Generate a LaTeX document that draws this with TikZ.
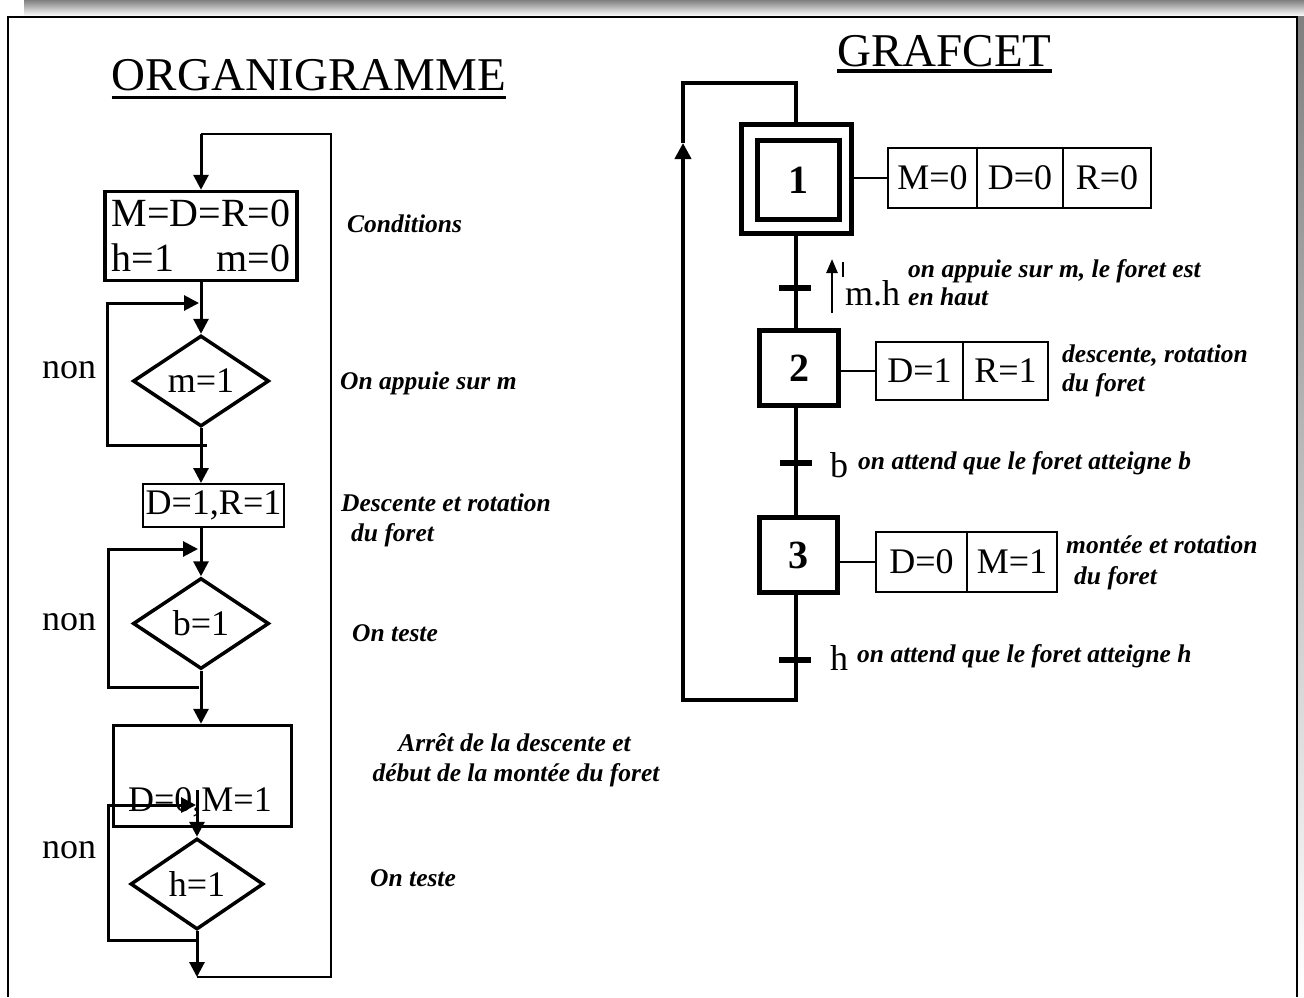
\documentclass[tikz,border=0pt]{standalone}
\usepackage{fontspec}
\setmainfont{Liberation Serif}
\usetikzlibrary{arrows.meta,shapes.geometric}
\definecolor{shade}{HTML}{808080}
\tikzset{
 big/.style={font=\fontsize{36}{45}\selectfont},
 ann/.style={font=\fontsize{25.5}{29}\selectfont\bfseries\itshape, inner sep=0pt, anchor=base west},
 fbox/.style={draw, line width=3.5pt, inner sep=0pt, big},
 tbox/.style={draw, line width=2pt, inner sep=0pt, big},
 dia/.style={diamond, draw, line width=3.5pt, inner sep=0pt, aspect=1.5, big},
 arr/.style={line width=3pt, -{Triangle[length=15pt,width=15pt]}},
 ret/.style={line width=2pt},
 stepbox/.style={draw, line width=5pt, inner sep=0pt, font=\fontsize{40}{46}\selectfont\bfseries},
 gline/.style={line width=4.5pt},
 act/.style={draw, line width=2pt, inner sep=0pt, minimum height=60pt, big},
 trans/.style={fill=black, inner sep=0pt, minimum width=32pt, minimum height=6pt},
 plain/.style={inner sep=0pt, big, anchor=base west},
 title/.style={inner sep=0pt, font=\fontsize{47}{56}\selectfont, anchor=base},
}
\begin{document}
\begin{tikzpicture}[x=1pt,y=-1pt]
\useasboundingbox (0,0) rectangle (1304,997);
% frame
\fill[shade] (24,0) rectangle (1304,16);
\fill[shade] (1298,16) rectangle (1304,987);
\draw[line width=2.5pt] (8,997) -- (8,17) -- (1297,17) -- (1297,997);

% titles
\node[title] (torg) at (309,90) {ORGANIGRAMME};
\draw[line width=3pt] ([yshift=-7pt]torg.base west) -- ([yshift=-7pt]torg.base east);
\node[title] (tgra) at (944.5,66) {GRAFCET};
\draw[line width=3.5pt] ([yshift=-5pt]tgra.base west) -- ([yshift=-5pt]tgra.base east);

% ---------------- ORGANIGRAMME ----------------
\node[fbox, minimum width=192pt, minimum height=89pt, align=center,
  font=\fontsize{40}{45}\selectfont] (b1) at (201,236)
  {M=D=R=0\\h=1\hspace{1.05em}m=0};
\node[dia, minimum width=136pt, minimum height=91pt] (d1) at (201,381) {m=1};
\node[tbox, minimum width=141pt, minimum height=43pt] (b2) at (213.5,505.5) {D=1,R=1};
\node[dia, minimum width=136pt, minimum height=91pt] (d2) at (201,623.5) {b=1};
\node[fbox, minimum width=178pt, minimum height=101pt] (b3) at (202.5,776) {};
\node[plain, anchor=base] (t3) at (200,811) {D=0,M=1};
\node[dia, minimum width=133pt, minimum height=91pt] (d3) at (197,884) {h=1};

% return line
\coordinate (fin) at (197,977);
\coordinate (rbot) at (331,977);
\coordinate (rtop) at (331,134);
\coordinate (ltop) at (201,134);
\draw[ret] (fin) -- (rbot) -- (rtop) -- (ltop);
\draw[arr] (ltop) -- (b1.north);

% main flow
\draw[arr] (b1.south) -- (d1.north);
\draw[arr] (d1.south) -- (b2.north -| d1.south);
\draw[arr] (b2.south -| d2.north) -- (d2.north);
\draw[arr] (d2.south) -- (b3.north -| d2.south);
\coordinate (m3) at (197,790);
\draw[arr] (m3) -- (d3.north);
\draw[arr] (d3.south) -- (fin);

% loops
\coordinate (l1a) at (207,445); \coordinate (l1b) at (107,445);
\coordinate (l1c) at (107,303); \coordinate (l1d) at (199,303);
\draw[arr] (l1a) -- (l1b) -- (l1c) -- (l1d);
\coordinate (l2a) at (199,687); \coordinate (l2b) at (108,687);
\coordinate (l2c) at (108,549); \coordinate (l2d) at (198,549);
\draw[arr] (l2a) -- (l2b) -- (l2c) -- (l2d);
\coordinate (l3a) at (197,940); \coordinate (l3b) at (108,940);
\coordinate (l3c) at (108,805); \coordinate (l3d) at (196,805);
\draw[arr] (l3a) -- (l3b) -- (l3c) -- (l3d);

% non labels
\node[plain] (n1) at (42,378) {non};
\node[plain] (n2) at (42,630) {non};
\node[plain] (n3) at (42,858) {non};

% annotations left
\node[ann] (c1) at (347,232) {Conditions};
\node[ann] (c2) at (340,389) {On appuie sur m};
\node[ann] (c3) at (341,511) {Descente et rotation};
\node[ann] (c3b) at (351,541) {du foret};
\node[ann] (c4) at (352,641) {On teste};
\node[ann, anchor=base] (c5) at (514.5,751) {Arrêt de la descente et};
\node[ann, anchor=base] (c5b) at (516,781) {début de la montée du foret};
\node[ann] (c6) at (370,886) {On teste};

% ---------------- GRAFCET ----------------
\node[stepbox, minimum width=110pt, minimum height=109pt] (s1o) at (796.5,179) {};
\node[stepbox, minimum width=82pt, minimum height=79pt] (s1) at (798.5,180) {1};
\node[stepbox, minimum width=79pt, minimum height=75pt] (s2) at (799,368) {2};
\node[stepbox, minimum width=78pt, minimum height=75pt] (s3) at (798.5,555) {3};

\coordinate (gbr) at (796,700);
\coordinate (gbl) at (683,700);
\coordinate (gmid) at (683,143);
\coordinate (gtl) at (683,83);
\coordinate (gtr) at (796,83);
\draw[gline] (s1o.south -| gtr) -- (s2.north -| gtr);
\draw[gline] (s2.south -| gtr) -- (s3.north -| gtr);
\draw[gline, -{Triangle[length=16pt,width=16pt]}] (s3.south -| gtr) -- (gbr) -- (gbl) -- (gmid);
\draw[gline] (gmid) -- (gtl) -- (gtr) -- (s1o.north -| gtr);

\node[trans] (t1) at (795,288) {};
\node[trans] (t2) at (796,463) {};
\node[trans] (t3) at (795,660) {};

% receptivities
\coordinate (rea) at (832,313); \coordinate (reb) at (832,259);
\draw[line width=2.5pt, -{Triangle[length=14pt,width=11pt]}] (rea) -- (reb);
\coordinate (rec) at (843,262); \coordinate (red) at (843,277);
\draw[line width=2pt] (rec) -- (red);
\node[plain] (tm) at (845,305) {m.h};
\node[plain] (tb) at (830,477) {b};
\node[plain] (th) at (830,670) {h};

% actions
\node[act, minimum width=89pt] (a1a) at (932.5,177.5) {M=0};
\node[act, minimum width=86pt] (a1b) at (1020,177.5) {D=0};
\node[act, minimum width=88pt] (a1c) at (1107,177.5) {R=0};
\draw[line width=2pt] (s1o.east |- a1a.west) -- (a1a.west);
\node[act, minimum width=87pt, minimum height=58pt] (a2a) at (919.5,371) {D=1};
\node[act, minimum width=85pt, minimum height=58pt] (a2b) at (1005.5,371) {R=1};
\draw[line width=2pt] (s2.east |- a2a.west) -- (a2a.west);
\node[act, minimum width=91pt] (a3a) at (921.5,562) {D=0};
\node[act, minimum width=90pt] (a3b) at (1012,562) {M=1};
\draw[line width=2pt] (s3.east |- a3a.west) -- (a3a.west);

% annotations right
\node[ann] (g1) at (908,277) {on appuie sur m, le foret est};
\node[ann] (g1b) at (908,305) {en haut};
\node[ann] (g2) at (1062,362) {descente, rotation};
\node[ann] (g2b) at (1062,391) {du foret};
\node[ann] (g3) at (858,469) {on attend que le foret atteigne b};
\node[ann] (g4) at (1066,553) {montée et rotation};
\node[ann] (g4b) at (1074,584) {du foret};
\node[ann] (g5) at (857,662) {on attend que le foret atteigne h};
\end{tikzpicture}
\end{document}
